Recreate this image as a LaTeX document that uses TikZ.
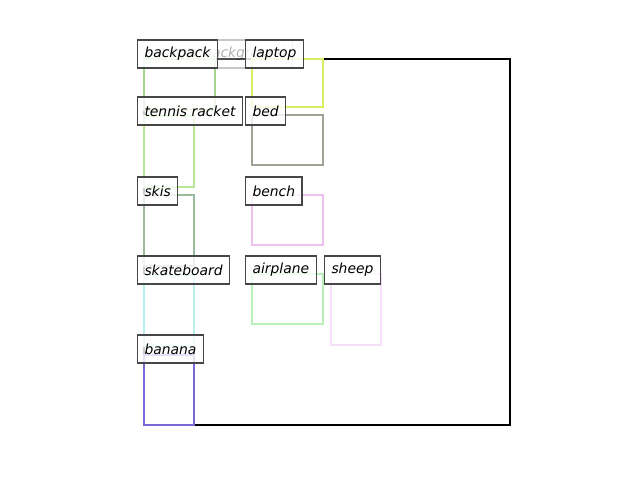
\documentclass[tikz,border=0pt]{standalone}
\usepackage{fontspec}
\setmainfont{DejaVu Sans}
\definecolor{tagedge}{RGB}{70,70,70}
\definecolor{cbackpack}{RGB}{165,214,140}
\definecolor{ctennis}{RGB}{184,232,150}
\definecolor{cskis}{RGB}{155,188,155}
\definecolor{cskate}{RGB}{184,238,238}
\definecolor{cbanana}{RGB}{123,104,216}
\definecolor{claptop}{RGB}{218,238,100}
\definecolor{cbed}{RGB}{160,164,148}
\definecolor{cbench}{RGB}{238,194,240}
\definecolor{cairplane}{RGB}{186,240,186}
\definecolor{csheep}{RGB}{244,222,248}
\begin{document}
\begin{tikzpicture}[x=0.72pt,y=-0.72pt,
  box/.style={line width=1.8pt},
  tag/.style={draw=tagedge, fill=white, fill opacity=0.8, text opacity=1,
    line width=0.8pt, anchor=west, inner xsep=5pt, inner ysep=0pt,
    minimum height=20.2pt, font=\itshape\fontsize{10}{12}\selectfont}]
\useasboundingbox (0,0) rectangle (640,480);

% detection boxes
\draw[box, black] (144,59) rectangle (510,425);
\draw[box, cbackpack] (144,59) rectangle (215,110);
\draw[box, ctennis] (144,116) rectangle (194,187);
\draw[box, cskis] (144,195) rectangle (194,266);
\draw[box, cskate] (144,275) rectangle (194,346);
\draw[box, cbanana] (144,355) rectangle (194,425);
\draw[box, claptop] (252,59) rectangle (323,107);
\draw[box, cbed] (252,115) rectangle (323,165);
\draw[box, cbench] (252,195) rectangle (323,245);
\draw[box, cairplane] (252,274) rectangle (323,324);
\draw[box, csheep] (331,274) rectangle (381,345);

% class labels
\node[tag, draw opacity=0.3, fill opacity=0.3, text opacity=0.3] (lbg) at (137,54) {outdoor background};
\node[tag] (lbackpack) at (137,54) {backpack};
\node[tag] (llaptop) at (245,54) {laptop};
\node[tag] (ltennis) at (137,111) {tennis racket};
\node[tag] (lbed) at (245,111) {bed};
\node[tag] (lskis) at (137,191) {skis};
\node[tag] (lbench) at (245,191) {bench};
\node[tag] (lskate) at (137,270) {skateboard};
\node[tag] (lairplane) at (245,270) {airplane};
\node[tag] (lsheep) at (324,270) {sheep};
\node[tag] (lbanana) at (137,349) {banana};
\end{tikzpicture}
\end{document}
